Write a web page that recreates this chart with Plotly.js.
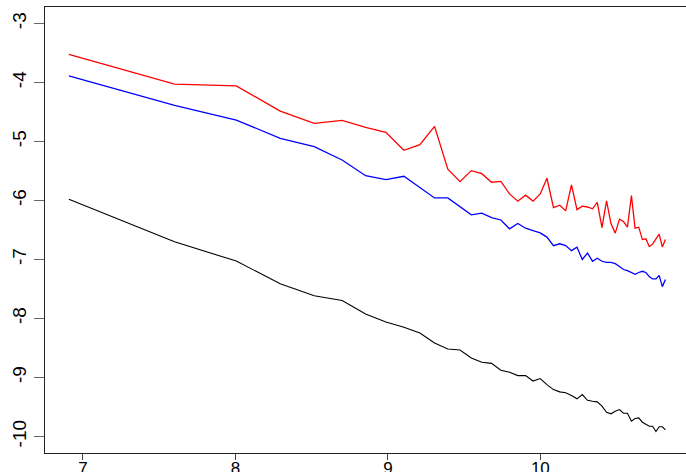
<!DOCTYPE html>
<html>
<head>
<meta charset="utf-8">
<script src="https://cdn.plot.ly/plotly-3.0.1.min.js"></script>
<style>html,body{margin:0;padding:0;background:#fff;}#chart{width:686px;height:472px;}</style>
</head>
<body>
<div id="chart"></div>
<script>
var xVals = [6.908, 7.601, 8.006, 8.294, 8.517, 8.700, 8.854, 8.987, 9.105, 9.210,
  9.306, 9.393, 9.473, 9.547, 9.616, 9.680, 9.741, 9.798, 9.852, 9.903,
  9.952, 9.999, 10.043, 10.086, 10.127, 10.166, 10.204, 10.240, 10.275, 10.309,
  10.342, 10.373, 10.404, 10.434, 10.463, 10.491, 10.519, 10.545, 10.571, 10.597,
  10.621, 10.645, 10.669, 10.692, 10.714, 10.736, 10.758, 10.779, 10.800, 10.820];

var redVals = [-3.525, -4.027, -4.056, -4.484, -4.692, -4.641, -4.760, -4.844, -5.149, -5.054,
  -4.743, -5.470, -5.680, -5.494, -5.545, -5.690, -5.675, -5.888, -6.012, -5.910,
  -6.010, -5.888, -5.623, -6.120, -6.080, -6.176, -5.736, -6.154, -6.097, -6.110,
  -6.140, -6.030, -6.458, -6.007, -6.390, -6.553, -6.316, -6.357, -6.452, -5.917,
  -6.469, -6.452, -6.662, -6.650, -6.780, -6.740, -6.650, -6.570, -6.790, -6.660];

var blueVals = [-3.887, -4.388, -4.636, -4.946, -5.088, -5.313, -5.579, -5.646, -5.589, -5.775,
  -5.956, -5.956, -6.103, -6.244, -6.215, -6.290, -6.330, -6.480, -6.390, -6.470,
  -6.510, -6.550, -6.620, -6.765, -6.734, -6.765, -6.850, -6.790, -7.000, -6.890,
  -7.030, -6.980, -7.030, -7.050, -7.050, -7.070, -7.120, -7.170, -7.190, -7.220,
  -7.250, -7.220, -7.200, -7.220, -7.290, -7.330, -7.330, -7.270, -7.460, -7.340];

var blackVals = [-5.978, -6.700, -7.027, -7.411, -7.614, -7.694, -7.924, -8.060, -8.150, -8.245,
  -8.415, -8.516, -8.533, -8.668, -8.743, -8.760, -8.878, -8.912, -8.968, -8.968,
  -9.060, -9.018, -9.120, -9.205, -9.244, -9.260, -9.306, -9.362, -9.290, -9.386,
  -9.403, -9.413, -9.487, -9.589, -9.616, -9.572, -9.543, -9.605, -9.605, -9.741,
  -9.695, -9.684, -9.758, -9.797, -9.826, -9.826, -9.916, -9.836, -9.836, -9.887];

var xTickVals = [7, 8, 9, 10];
var xTickText = ["7", "8", "9", "10"];
var yTickVals = [-3, -4, -5, -6, -7, -8, -9, -10];
var yTickText = ["-3", "-4", "-5", "-6", "-7", "-8", "-9", "-10"];

var traces = [
  {x: xVals, y: blackVals, type: 'scatter', mode: 'lines', line: {color: '#000000', width: 1.1}, hoverinfo: 'skip'},
  {x: xVals, y: blueVals, type: 'scatter', mode: 'lines', line: {color: '#0000FF', width: 1.3}, hoverinfo: 'skip'},
  {x: xVals, y: redVals, type: 'scatter', mode: 'lines', line: {color: '#FF0000', width: 1.3}, hoverinfo: 'skip'}
];

var layout = {
  width: 686, height: 472,
  margin: {l: 45, r: 0, t: 7, b: 19, pad: 0},
  paper_bgcolor: '#ffffff', plot_bgcolor: '#ffffff',
  showlegend: false,
  font: {family: '"Liberation Sans", Arial, sans-serif', size: 19, color: '#000000'},
  xaxis: {
    range: [6.7515, 10.955],
    tickmode: 'array', tickvals: xTickVals, ticktext: xTickText,
    ticks: 'outside', ticklen: 6, tickwidth: 1, tickcolor: '#444444',
    ticklabelstandoff: -7,
    showline: true, mirror: true, linecolor: '#222222', linewidth: 1.2,
    showgrid: false, zeroline: false,
    tickfont: {size: 17}
  },
  yaxis: {
    range: [-10.28, -2.72],
    tickmode: 'array', tickvals: yTickVals, ticktext: yTickText,
    ticks: 'outside', ticklen: 10, tickwidth: 1, tickcolor: '#666666',
    tickangle: -90,
    showline: true, mirror: false, linecolor: '#222222', linewidth: 1.2,
    showgrid: false, zeroline: false,
    tickfont: {size: 19}
  }
};

Plotly.newPlot('chart', traces, layout, {staticPlot: true, displayModeBar: false});
</script>
</body>
</html>
